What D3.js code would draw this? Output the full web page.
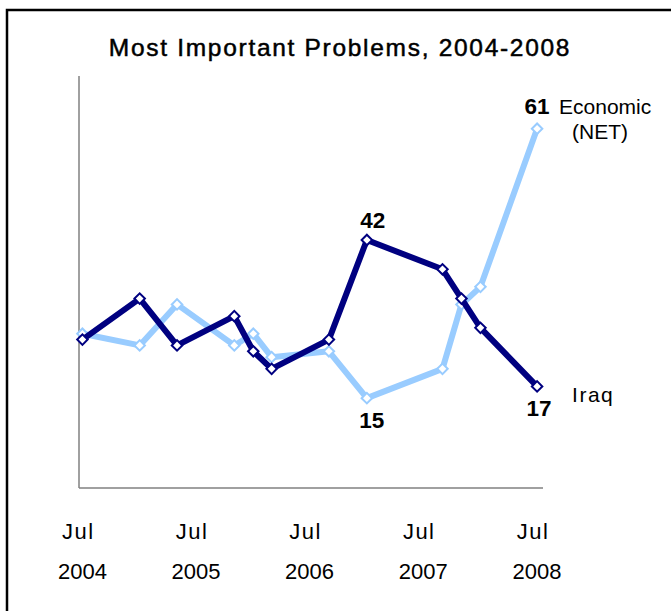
<!DOCTYPE html>
<html><head><meta charset="utf-8">
<script src="https://cdn.jsdelivr.net/npm/d3@7"></script>
<style>body{margin:0;background:#fff}svg{display:block}text{font-family:"Liberation Sans",Arial,sans-serif}</style>
</head><body><svg id="c" width="671" height="611"></svg>
<script>
const dates = ["2004-07","2005-01","2005-05","2005-11","2006-01","2006-03","2006-09","2007-01","2007-09","2007-11","2008-01","2008-07"];
const iraq = [25,32,24,29,23,20,25,42,37,32,27,17];
const economic = [26,24,31,24,26,22,23,15,20,31,34,61];
const tickYears = ["2004","2005","2006","2007","2008"];
const tickMonth = "Jul";
const title = "Most Important Problems, 2004-2008";

const parse = d3.timeParse("%Y-%m");
const svg = d3.select("#c");
const x = d3.scaleTime().domain([new Date(2004,5,20), new Date(2008,6,20)]).range([79, 543]);
const y = d3.scaleLinear().domain([0,70]).range([486, 76]);

svg.append("rect").attr("x",7).attr("y",10).attr("width",700).attr("height",700)
  .attr("fill","none").attr("stroke","#000").attr("stroke-width",2.5);

svg.append("text").attr("x",340).attr("y",56).attr("text-anchor","middle")
  .attr("font-size",24.5).attr("letter-spacing",1.7).attr("stroke","#000").attr("stroke-width",0.5)
  .attr("fill","#000").text(title);

// axes
svg.append("line").attr("x1",x.range()[0]).attr("x2",x.range()[0]).attr("y1",y.range()[1]).attr("y2",y.range()[0]+2)
  .attr("stroke","#808080").attr("stroke-width",1.5);
svg.append("line").attr("x1",x.range()[0]).attr("x2",x.range()[1]).attr("y1",y.range()[0]+2).attr("y2",y.range()[0]+2)
  .attr("stroke","#808080").attr("stroke-width",1.5);

const tg = svg.append("g");
tickYears.forEach(yr => {
  const xp = x(parse(yr+"-07"));
  tg.append("text").attr("x",xp-4).attr("y",539).attr("text-anchor","middle").attr("font-size",22)
    .attr("letter-spacing",1.5).text(tickMonth);
  tg.append("text").attr("x",xp).attr("y",579).attr("text-anchor","middle").attr("font-size",22).text(yr);
});

const line = d3.line().x(d=>x(d[0])).y(d=>y(d[1]));
function series(vals, color){
  const pts = dates.map((d,i)=>[parse(d), vals[i]]);
  svg.append("path").datum(pts).attr("d",line).attr("fill","none").attr("stroke",color)
    .attr("stroke-width",6).attr("stroke-linejoin","round");
  svg.append("g").selectAll("path").data(pts).join("path")
    .attr("d", d3.symbol(d3.symbolSquare, 55)())
    .attr("transform", d=>`translate(${x(d[0])},${y(d[1])}) rotate(45)`)
    .attr("fill","#fff").attr("stroke",color).attr("stroke-width",2);
  return pts;
}
const ep = series(economic, "#99CCFF");
const ip = series(iraq, "#000080");

function lab(p, dx, dy, txt, bold, anchor, ls){
  svg.append("text").attr("x",x(p[0])+dx).attr("y",y(p[1])+dy).attr("text-anchor",anchor||"middle")
    .attr("font-size",bold?22.5:21).attr("font-weight",bold?"bold":"normal").attr("letter-spacing",ls||0)
    .attr("fill","#000").text(txt);
}
lab(ip[7], 6, -12, String(iraq[7]), true);
lab(ep[7], 5, 30, String(economic[7]), true);
lab(ip[11], 2, 30, String(iraq[11]), true);
lab(ep[11], 0, -15, String(economic[11]), true);
lab(ep[11], 22, -15, "Economic", false, "start");
lab(ep[11], 63, 10, "(NET)", false, "middle");
lab(ip[11], 35, 16, "Iraq", false, "start", 1.5);
</script></body></html>
